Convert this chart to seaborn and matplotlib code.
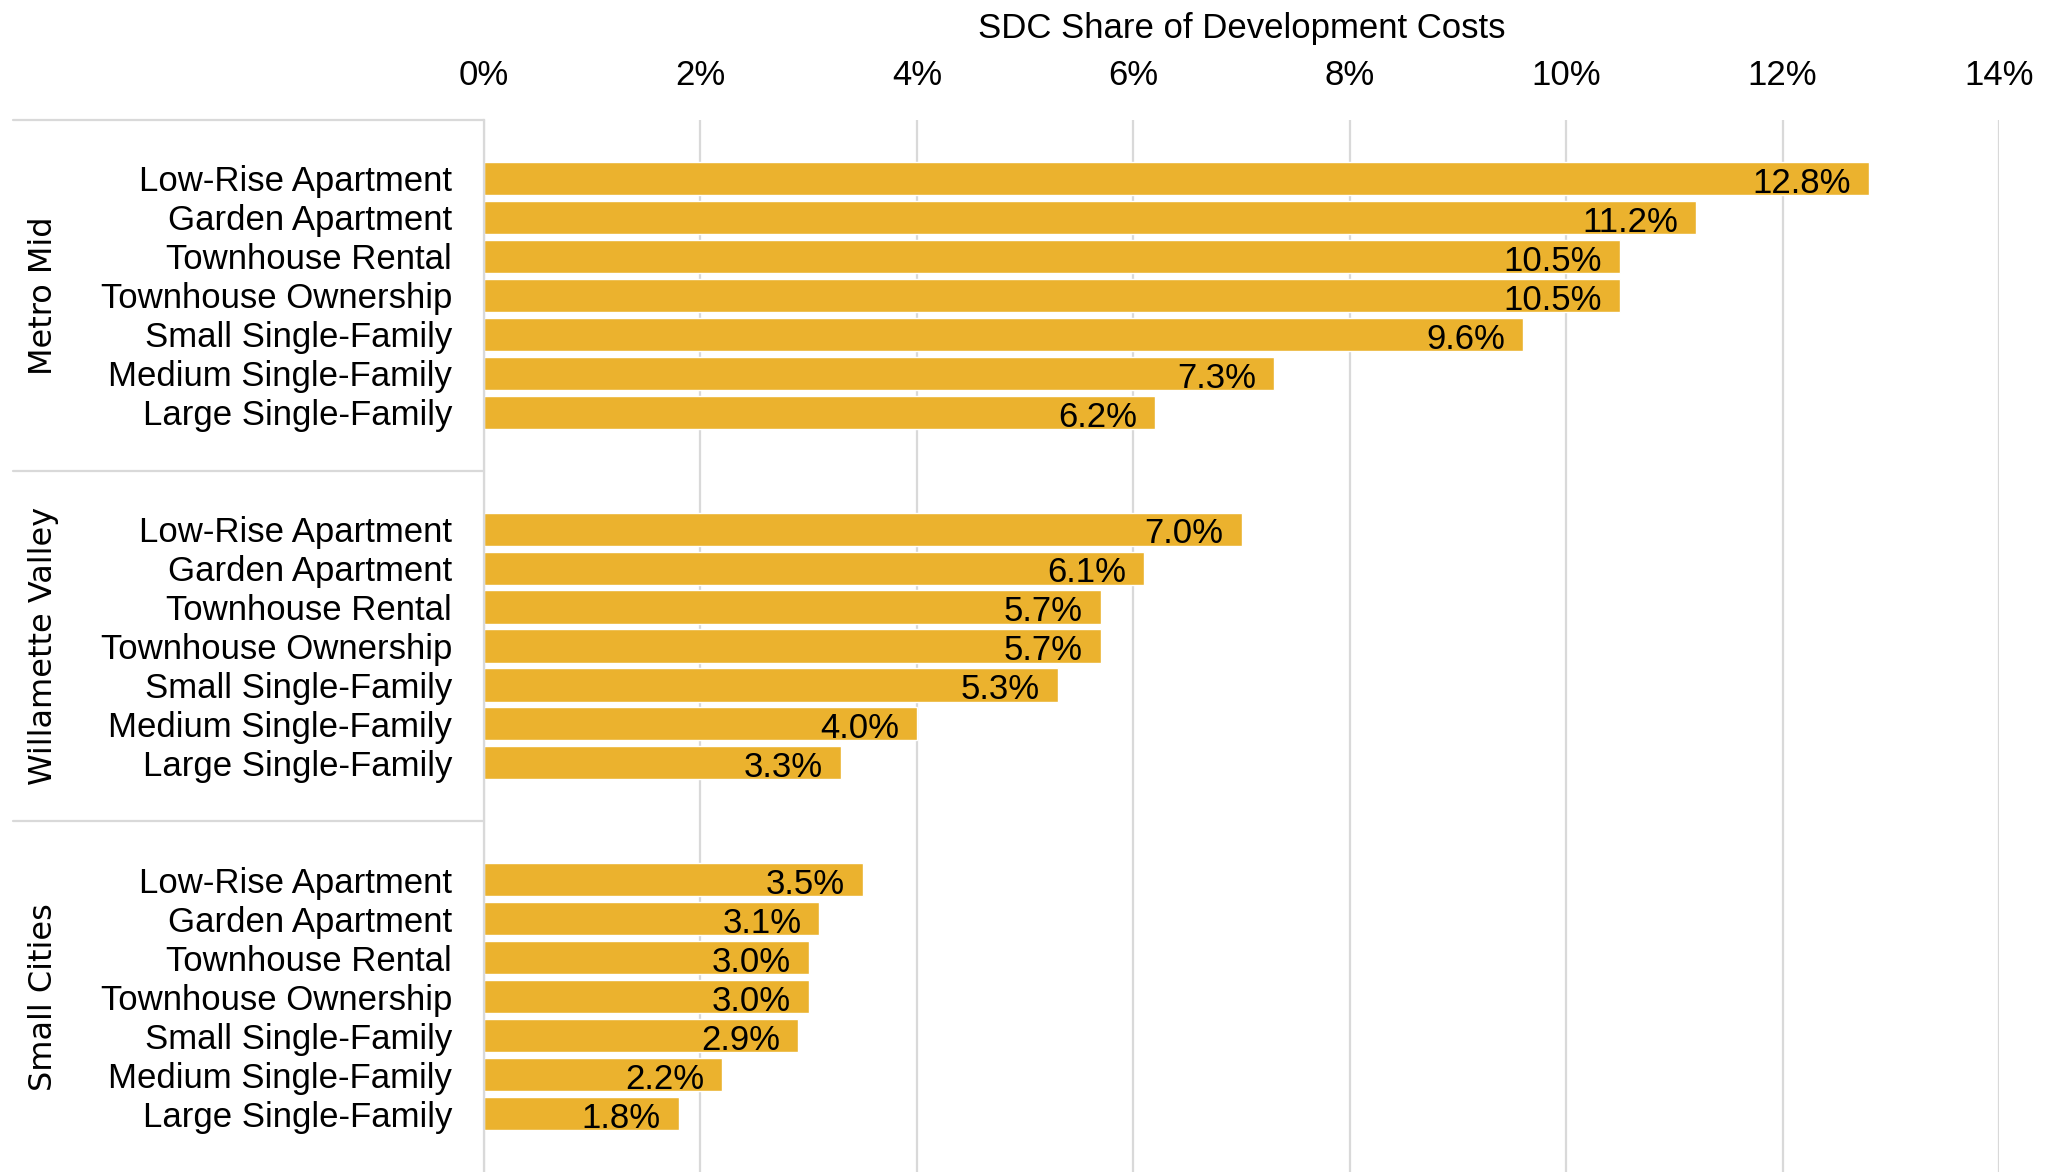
import matplotlib
matplotlib.use("Agg")
import matplotlib.pyplot as plt
import matplotlib.transforms as mtransforms
import pandas as pd
import seaborn as sns

regions = ["Metro Mid", "Willamette Valley", "Small Cities"]
housing_types = [
    "Low-Rise Apartment",
    "Garden Apartment",
    "Townhouse Rental",
    "Townhouse Ownership",
    "Small Single-Family",
    "Medium Single-Family",
    "Large Single-Family",
]
metro_mid = [12.8, 11.2, 10.5, 10.5, 9.6, 7.3, 6.2]
willamette_valley = [7.0, 6.1, 5.7, 5.7, 5.3, 4.0, 3.3]
small_cities = [3.5, 3.1, 3.0, 3.0, 2.9, 2.2, 1.8]
x_ticks = [0, 2, 4, 6, 8, 10, 12, 14]
x_tick_labels = ["0%", "2%", "4%", "6%", "8%", "10%", "12%", "14%"]
x_title = "SDC Share of Development Costs"

BAR_COLOR = "#EBB22E"
GRID_COLOR = "#D9D9D9"
FONT_SIZE = 25

sns.set_theme(style="white")
plt.rcParams["font.family"] = ["Liberation Sans", "DejaVu Sans"]

# Each region takes a block of 9 rows: blank, seven bars, blank
block = 9
rows = []
for g, (region, vals) in enumerate(zip(regions, [metro_mid, willamette_valley, small_cities])):
    for j, (htype, val) in enumerate(zip(housing_types, vals)):
        rows.append({"region": region, "type": htype, "share": val, "slot": g * block + 1 + j})
df = pd.DataFrame(rows)

W, H = 2047, 1172
fig = plt.figure(figsize=(W / 100, H / 100), dpi=100)
ax_left, ax_right, ax_top = 484, 1999, 120
ax = fig.add_axes([ax_left / W, 0, (ax_right - ax_left) / W, (H - ax_top) / H])

sns.barplot(
    data=df, x="share", y="slot", orient="h", native_scale=True,
    width=0.85, color=BAR_COLOR, saturation=1, ax=ax,
)

ax.set_xlim(0, 14)
ax.set_ylim(len(regions) * block - 0.5, -0.5)

# value labels inside the bar ends
for _, r in df.iterrows():
    ax.annotate(
        f"{r.share:.1f}%", xy=(r.share, r.slot), xytext=(-13, -3.5),
        textcoords="offset points", ha="right", va="center",
        fontsize=FONT_SIZE, color="black",
    )

# category tick labels
ax.set_yticks(df["slot"])
ax.set_yticklabels(df["type"], fontsize=FONT_SIZE, color="black")
ax.set_ylabel("")
ax.tick_params(axis="y", length=0, pad=23)

# top percentage axis
ax.xaxis.set_ticks_position("top")
ax.xaxis.set_label_position("top")
ax.set_xticks(x_ticks)
ax.set_xticklabels(x_tick_labels, fontsize=FONT_SIZE, color="black")
ax.tick_params(axis="x", length=0, pad=20)
ax.set_xlabel(x_title, fontsize=FONT_SIZE, color="black", labelpad=15.5)

ax.grid(axis="x", color=GRID_COLOR, lw=1.6)
ax.grid(axis="y", visible=False)
ax.set_axisbelow(True)
for side in ["top", "right", "bottom"]:
    ax.spines[side].set_visible(False)
ax.spines["left"].set_color(GRID_COLOR)
ax.spines["left"].set_linewidth(1.6)

# region separators and rotated region names
trans = mtransforms.blended_transform_factory(ax.transAxes, ax.transData)
sep_x0 = (13 - ax_left) / (ax_right - ax_left)
for g in range(len(regions)):
    y = g * block - 0.5
    ax.plot([sep_x0, 0], [y, y], transform=trans, clip_on=False,
            color=GRID_COLOR, lw=1.6)
label_x = (43 - ax_left) / (ax_right - ax_left)
for g, region in enumerate(regions):
    ax.text(label_x, g * block + 4, region, rotation=90, ha="center", va="center",
            transform=trans, fontsize=23, family="DejaVu Sans", color="black")

fig.savefig("out.png", dpi=100)
